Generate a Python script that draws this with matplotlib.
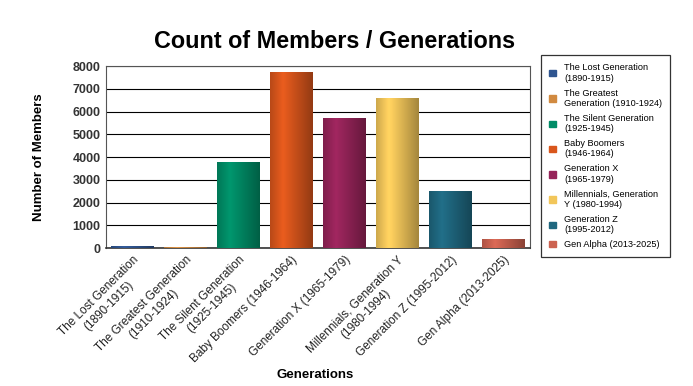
import numpy as np
import matplotlib
matplotlib.use("Agg")
import matplotlib.pyplot as plt
import matplotlib.colors as mcolors

plt.rcParams["font.family"] = ["Liberation Sans", "DejaVu Sans"]

categories = ["The Lost Generation\n(1890-1915)", "The Greatest Generation\n(1910-1924)",
              "The Silent Generation\n(1925-1945)", "Baby Boomers (1946-1964)",
              "Generation X (1965-1979)", "Millennials, Generation Y\n(1980-1994)",
              "Generation Z (1995-2012)", "Gen Alpha (2013-2025)"]
legend_labels = ["The Lost Generation\n(1890-1915)", "The Greatest\nGeneration (1910-1924)",
                 "The Silent Generation\n(1925-1945)", "Baby Boomers\n(1946-1964)",
                 "Generation X\n(1965-1979)", "Millennials, Generation\nY (1980-1994)",
                 "Generation Z\n(1995-2012)", "Gen Alpha (2013-2025)"]
values = [90, 40, 3800, 7720, 5720, 6600, 2520, 400]
colors = ["#2f5590", "#d18a40", "#008c66", "#d9561c", "#962459", "#f2c65a", "#1f677f", "#cc6250"]
yticks = [0, 1000, 2000, 3000, 4000, 5000, 6000, 7000, 8000]

fig = plt.figure(figsize=(6.93, 3.86), dpi=100)
ax = fig.add_axes([0.153, 0.3575, 0.612, 0.4715])

x = np.arange(len(values))
bars = ax.bar(x, values, width=0.8, color=colors, edgecolor="none", zorder=3)

# cylinder-like gradient shading
t = np.linspace(0, 1, 64)
shade = np.interp(t, [0, 0.3, 1.0], [0.85, 1.08, 0.68])
for b, c in zip(bars, colors):
    rgb = np.array(mcolors.to_rgb(c))
    img = np.clip(rgb[None, None, :] * shade[None, :, None], 0, 1)
    x0, y0 = b.get_x(), b.get_y()
    w, h = b.get_width(), b.get_height()
    im = ax.imshow(img, extent=[x0, x0 + w, y0, y0 + h], aspect="auto",
                   interpolation="bilinear", zorder=4)
    im.set_clip_path(b)

ax.set_xlim(-0.5, len(values) - 0.5)
ax.set_ylim(0, 8000)
ax.set_yticks(yticks)
ax.set_yticklabels([str(v) for v in yticks], fontsize=9, fontweight="bold", color="#333333")
ax.yaxis.grid(True, color="black", linewidth=0.8, zorder=0)
ax.set_axisbelow(True)
ax.tick_params(axis="both", length=0, pad=4)
ax.set_xticks(x)
ax.set_xticklabels(categories, rotation=45, ha="right", rotation_mode="anchor",
                   fontsize=8.5, multialignment="center", color="#222222")
for s in ["top", "right"]:
    ax.spines[s].set_color("#555555")
ax.spines["left"].set_color("#555555")
ax.spines["bottom"].set_color("#333333")
ax.spines["bottom"].set_linewidth(1.2)

ax.set_ylabel("Number of Members", fontsize=9.5, fontweight="bold", labelpad=20)
fig.text(0.455, 0.02, "Generations", fontsize=9.5, fontweight="bold", ha="center")
fig.text(0.483, 0.875, "Count of Members / Generations", fontsize=16.8, fontweight="bold", ha="center")

handles = [plt.Rectangle((0, 0), 1, 1, color=c) for c in colors]
leg = fig.legend(handles, legend_labels, loc="upper left", bbox_to_anchor=(0.7807, 0.8575),
                 fontsize=6.6, frameon=True, fancybox=False, edgecolor="black",
                 handlelength=0.7, handleheight=0.7, handletextpad=0.9,
                 labelspacing=0.64, borderpad=0.9, borderaxespad=0)
leg.get_frame().set_linewidth(0.9)

fig.savefig("out.png", dpi=100)
